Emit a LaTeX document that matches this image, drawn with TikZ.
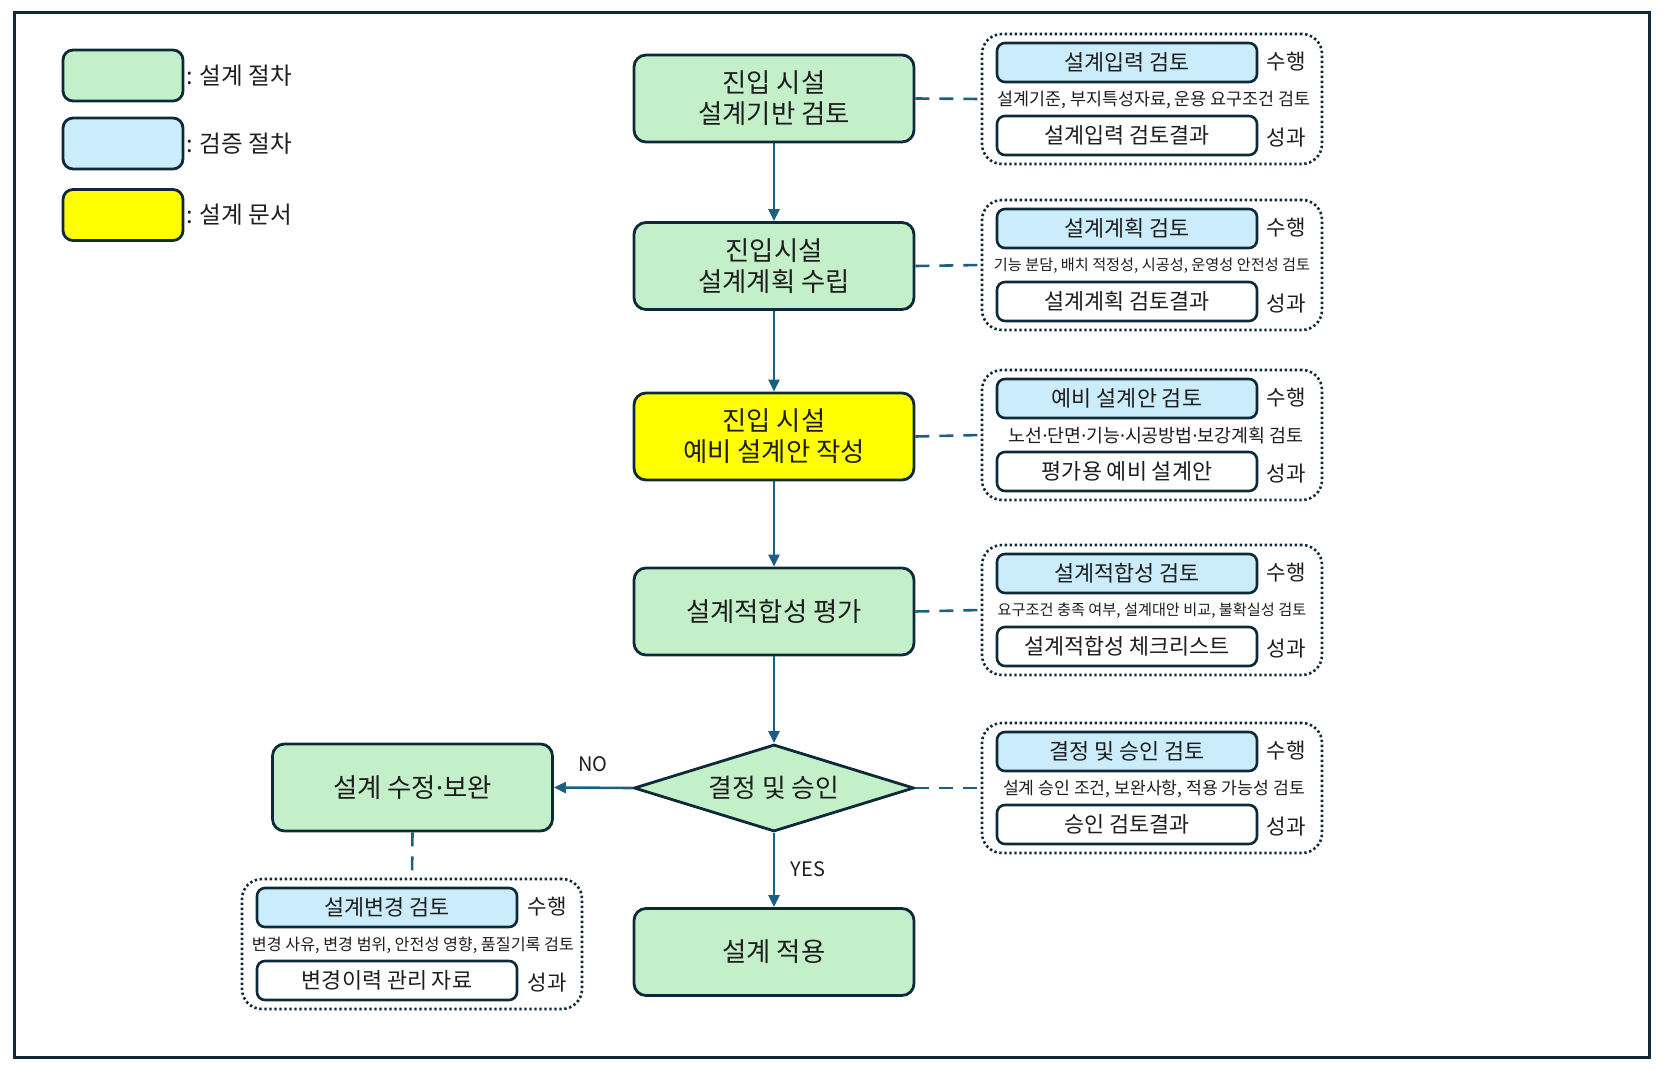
\documentclass[tikz,border=0pt]{standalone}
\usepackage{fontspec}
\usepackage{xcolor}
\usepackage{tikz}
\usetikzlibrary{arrows.meta,shapes.geometric}
\newfontfamily\kr{Noto Sans CJK KR}
\newfontfamily\dotfont{Noto Sans}
\newcommand{\kdot}{{\dotfont ·}}
\definecolor{edge}{HTML}{0E2A3A}
\definecolor{flowblue}{HTML}{1B5F82}
\definecolor{procfill}{HTML}{C3F0C9}
\definecolor{checkfill}{HTML}{CBECFA}
\definecolor{docfill}{HTML}{FFFF00}
\definecolor{ink}{HTML}{1E1E1E}

\begin{document}
\begin{tikzpicture}[x=0.5pt,y=-0.5pt,
    proc/.style={draw=edge, line width=1.4pt, rounded corners=6pt, fill=procfill,
        minimum width=140pt, minimum height=43.5pt, align=center, text=ink,
        font=\kr\fontsize{13.2}{15.5}\selectfont},
    decide/.style={diamond, aspect=3.2, draw=edge, line width=1.4pt, fill=procfill,
        inner sep=0pt, minimum width=140pt, minimum height=43.5pt, text=ink,
        font=\kr\fontsize{12.9}{15}\selectfont},
    legbox/.style={draw=edge, line width=1.4pt, rounded corners=5pt,
        minimum width=60pt, minimum height=25.5pt},
    legtext/.style={anchor=west, inner sep=0pt, text=ink, font=\kr\fontsize{11.8}{13}\selectfont},
    grp/.style={draw=edge, line width=1.3pt, dash pattern=on 1.2pt off 1.3pt,
        rounded corners=10pt, minimum width=170pt, minimum height=65pt},
    chk/.style={draw=edge, line width=1.3pt, rounded corners=4pt, fill=checkfill,
        minimum width=130pt, minimum height=19.5pt, inner sep=0pt, text=ink,
        font=\kr\fontsize{10.9}{12}\selectfont},
    res/.style={chk, fill=white},
    tag/.style={inner sep=0pt, text=ink, font=\kr\fontsize{10.6}{12}\selectfont},
    note/.style={inner sep=0pt, text=ink, font=\kr\fontsize{#1}{10}\selectfont},
    flow/.style={draw=flowblue, line width=1.3pt, -{Triangle[length=6pt,width=5.5pt]}},
    link/.style={draw=flowblue, line width=1.3pt, dash pattern=on 7pt off 5pt},
    yesno/.style={inner sep=0pt, text=ink, font=\kr\fontsize{10}{11}\selectfont}
]
\useasboundingbox (0,0) rectangle (1664,1070);
\draw[edge, line width=1.5pt] (14,13) rectangle (1649,1057);

% legend
\node[legbox, fill=procfill] (l1) at (123,75.5) {};
\node[legtext] (l1t) at (186,75.5) {: 설계 절차};
\node[legbox, fill=checkfill] (l2) at (123,143.5) {};
\node[legtext] (l2t) at (186,143.5) {: 검증 절차};
\node[legbox, fill=docfill] (l3) at (123,215) {};
\node[legtext] (l3t) at (186,215) {: 설계 문서};

% main column
\node[proc] (b1) at (774,98.5) {진입 시설\\설계기반 검토};
\node[proc] (b2) at (774,266) {진입시설\\설계계획 수립};
\node[proc, fill=docfill] (b3) at (774,436.5) {진입 시설\\예비 설계안 작성};
\node[proc] (b4) at (774,611.5) {설계적합성 평가};
\node[decide] (dm) at (774,788) {결정 및 승인};
\node[proc] (b6) at (774,952) {설계 적용};
\node[proc] (lb) at (412.5,787.5) {설계 수정\kdot 보완};

\draw[flow] (b1) -- (b2);
\draw[flow] (b2) -- (b3);
\draw[flow] (b3) -- (b4);
\draw[flow] (b4) -- (dm);
\draw[flow] (dm) -- (b6);
\draw[flow] (dm.west) -- (lb.east);
\node[yesno] (yes) at (808,869) {YES};
\node[yesno] (no) at (593,764) {NO};

% group 1
\node[grp] (g1) at (1152,99) {};
\node[chk] (g1c) at (1127,62.5) {설계입력 검토};
\node[tag] (g1d) at (1286,62) {수행};
\node[note=8.7] (g1n) at (1154,100) {설계기준, 부지특성자료, 운용 요구조건 검토};
\node[res] (g1r) at (1127,135.5) {설계입력 검토결과};
\node[tag] (g1o) at (1286,138) {성과};
% group 2
\node[grp] (g2) at (1152,265) {};
\node[chk] (g2c) at (1127,228.5) {설계계획 검토};
\node[tag] (g2d) at (1286,228) {수행};
\node[note=7.6] (g2n) at (1152,266) {기능 분담, 배치 적정성, 시공성, 운영성 안전성 검토};
\node[res] (g2r) at (1127,301.5) {설계계획 검토결과};
\node[tag] (g2o) at (1286,304) {성과};
% group 3
\node[grp] (g3) at (1152,435) {};
\node[chk] (g3c) at (1127,398.5) {예비 설계안 검토};
\node[tag] (g3d) at (1286,398) {수행};
\node[note=9.2] (g3n) at (1156,436) {노선\kdot 단면\kdot 기능\kdot 시공방법\kdot 보강계획 검토};
\node[res] (g3r) at (1127,471.5) {평가용 예비 설계안};
\node[tag] (g3o) at (1286,474) {성과};
% group 4
\node[grp] (g4) at (1152,610) {};
\node[chk] (g4c) at (1127,573.5) {설계적합성 검토};
\node[tag] (g4d) at (1286,573) {수행};
\node[note=7.6] (g4n) at (1152,611) {요구조건 충족 여부, 설계대안 비교, 불확실성 검토};
\node[res] (g4r) at (1127,646.5) {설계적합성 체크리스트};
\node[tag] (g4o) at (1286,649) {성과};
% group 5
\node[grp] (g5) at (1152,788) {};
\node[chk] (g5c) at (1127,751.5) {결정 및 승인 검토};
\node[tag] (g5d) at (1286,751) {수행};
\node[note=8.6] (g5n) at (1154,789) {설계 승인 조건, 보완사항, 적용 가능성 검토};
\node[res] (g5r) at (1127,824.5) {승인 검토결과};
\node[tag] (g5o) at (1286,827) {성과};
% group 6
\node[grp] (g6) at (412,944) {};
\node[chk] (g6c) at (387,907.5) {설계변경 검토};
\node[tag] (g6d) at (547,907) {수행};
\node[note=8.1] (g6n) at (413,945) {변경 사유, 변경 범위, 안전성 영향, 품질기록 검토};
\node[res] (g6r) at (387,980.5) {변경이력 관리 자료};
\node[tag] (g6o) at (547,983) {성과};

\draw[link] (b1.east) -- (g1.west);
\draw[link] (b2.east) -- (g2.west);
\draw[link] (b3.east) -- (g3.west);
\draw[link] (b4.east) -- (g4.west);
\draw[link] (dm.east) -- (g5.west);
\draw[link] (lb.south) -- (g6.north);
\end{tikzpicture}
\end{document}
